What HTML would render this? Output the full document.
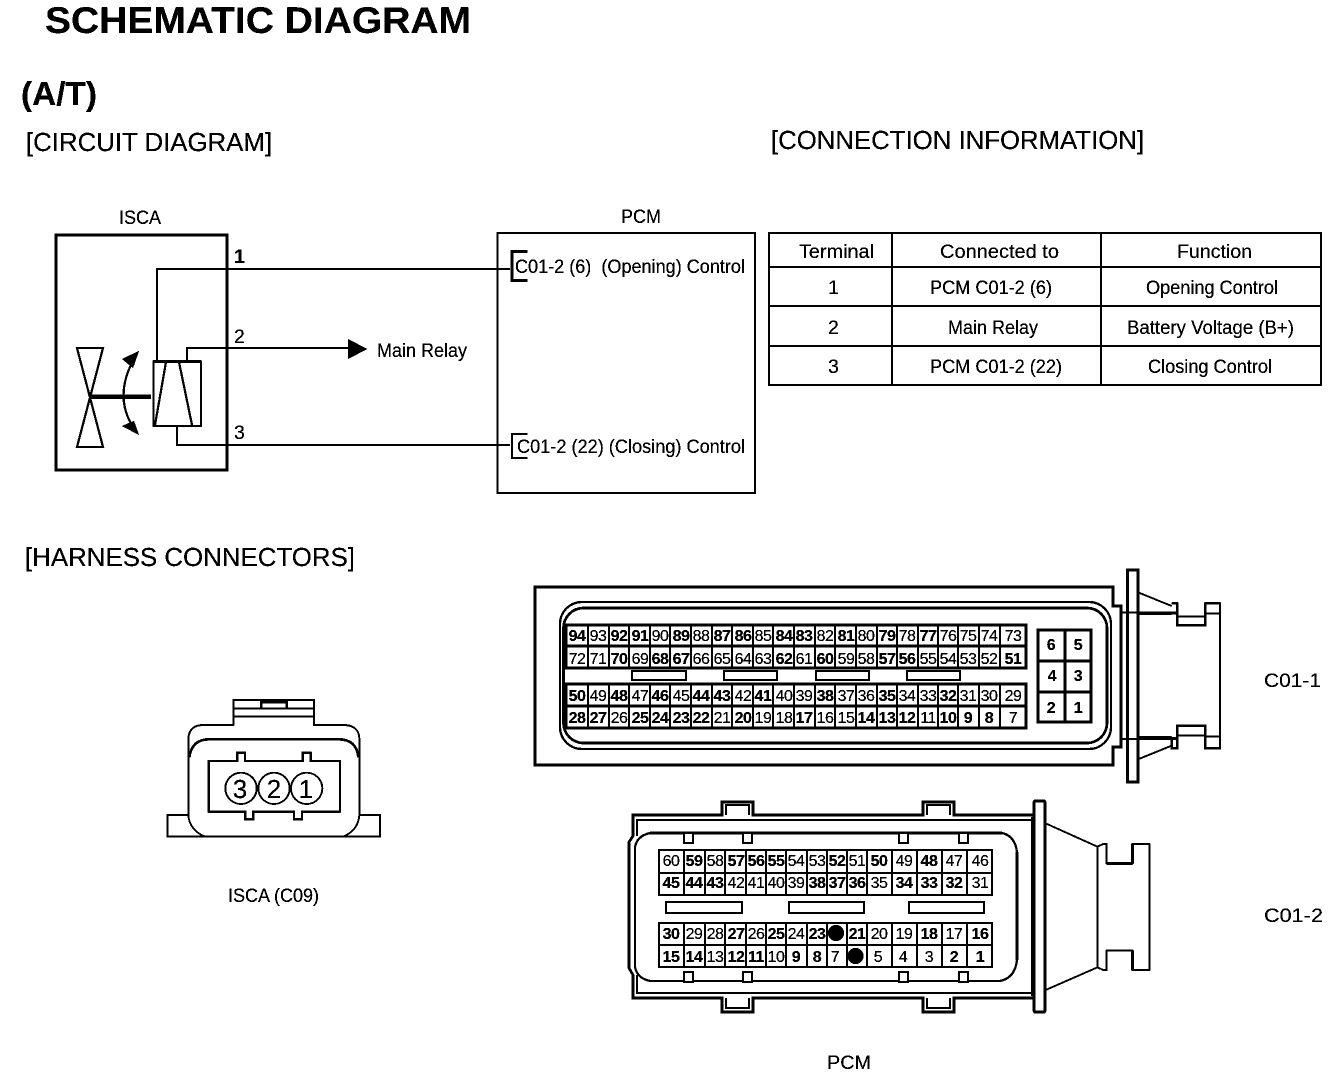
<!DOCTYPE html>
<html><head><meta charset="utf-8"><style>
html,body{margin:0;padding:0;background:#fff}
svg{display:block}
text{font-family:"Liberation Sans",sans-serif;fill:#000}
.n text{font-size:16px;text-anchor:middle;letter-spacing:-.5px}
.b{font-weight:bold}
.l{fill:none;stroke:#000;stroke-width:2}
.t{font-size:19.5px}
</style></head><body>
<svg width="1344" height="1084" viewBox="0 0 1344 1084" xmlns="http://www.w3.org/2000/svg">
<defs><filter id="th" x="0" y="0" width="100%" height="100%" color-interpolation-filters="sRGB"><feComponentTransfer><feFuncR type="discrete" tableValues="0 0 0 1"/><feFuncG type="discrete" tableValues="0 0 0 1"/><feFuncB type="discrete" tableValues="0 0 0 1"/></feComponentTransfer></filter></defs>
<g filter="url(#th)">
<rect width="1344" height="1084" fill="#fff"/>
<text x="45" y="33" font-weight="bold" font-size="37" textLength="426" lengthAdjust="spacingAndGlyphs">SCHEMATIC DIAGRAM</text>
<text x="21" y="105" font-weight="bold" font-size="33" textLength="76" lengthAdjust="spacingAndGlyphs">(A/T)</text>
<text x="26" y="151" font-size="26" textLength="246" lengthAdjust="spacingAndGlyphs">[CIRCUIT DIAGRAM]</text>
<text x="771" y="149" font-size="26" textLength="373" lengthAdjust="spacingAndGlyphs">[CONNECTION INFORMATION]</text>
<text x="25" y="566" font-size="26" textLength="330" lengthAdjust="spacingAndGlyphs">[HARNESS CONNECTORS]</text>

<!-- circuit -->
<text class="t" x="119" y="224" textLength="42" lengthAdjust="spacingAndGlyphs">ISCA</text>
<text class="t" x="621" y="223" textLength="40" lengthAdjust="spacingAndGlyphs">PCM</text>
<rect x="56" y="235" width="171" height="235" fill="none" stroke="#000" stroke-width="2.5"/>
<rect x="497.5" y="233" width="257.5" height="260" fill="none" stroke="#000" stroke-width="2"/>
<path class="l" d="M157 361V269H510M187 361V348H350M177 426V445H510"/>
<path d="M348 339L367 349L348 359Z"/>
<text class="t" x="234" y="263" font-weight="bold" font-size="18">1</text>
<text class="t" x="234" y="343" font-size="19">2</text>
<text class="t" x="234" y="439" font-size="19">3</text>
<text class="t" x="377" y="357" textLength="90" lengthAdjust="spacingAndGlyphs">Main Relay</text>
<path class="l" d="M77 348H103L77 447H103Z"/>
<path d="M89 394.500H151V399H89Z"/>
<path class="l" d="M135 357Q112 397 135 430"/>
<path d="M139 351L133 368L122 359ZM139 435L122 426L134 421Z"/>
<rect x="153.500" y="361.500" width="47.500" height="64.500" class="l"/>
<path d="M153 360H201V363H153Z"/>
<path class="l" d="M166 362L155 425M179 362L192 425"/>
<path d="M527.500 250V253H513.500V279H527.500V282H510.500V250ZM527.500 433V435H513V457H527.500V459H511V433Z"/>
<text class="t" x="515" y="273" textLength="230" lengthAdjust="spacingAndGlyphs" xml:space="preserve">C01-2 (6)  (Opening) Control</text>
<text class="t" x="517" y="453" textLength="228" lengthAdjust="spacingAndGlyphs" xml:space="preserve">C01-2 (22) (Closing) Control</text>

<!-- table -->
<rect x="769" y="233" width="552" height="152" class="l"/>
<path class="l" d="M769 267H1321M769 306H1321M769 346H1321M892 233V385M1101 233V385"/>
<g class="t">
<text class="t" x="799" y="258" textLength="75" lengthAdjust="spacingAndGlyphs">Terminal</text>
<text class="t" x="940" y="258" textLength="119" lengthAdjust="spacingAndGlyphs">Connected to</text>
<text class="t" x="1177" y="258" textLength="75" lengthAdjust="spacingAndGlyphs">Function</text>
<text class="t" x="828" y="294">1</text>
<text class="t" x="930" y="294" textLength="122" lengthAdjust="spacingAndGlyphs">PCM C01-2 (6)</text>
<text class="t" x="1146" y="294" textLength="132" lengthAdjust="spacingAndGlyphs">Opening Control</text>
<text class="t" x="828" y="334">2</text>
<text class="t" x="948" y="334" textLength="90" lengthAdjust="spacingAndGlyphs">Main Relay</text>
<text class="t" x="1127" y="334" textLength="167" lengthAdjust="spacingAndGlyphs">Battery Voltage (B+)</text>
<text class="t" x="828" y="373">3</text>
<text class="t" x="930" y="373" textLength="132" lengthAdjust="spacingAndGlyphs">PCM C01-2 (22)</text>
<text class="t" x="1148" y="373" textLength="124" lengthAdjust="spacingAndGlyphs">Closing Control</text>
</g>

<!-- ISCA connector -->
<g transform="translate(150,680) scale(.33333)" fill="none" stroke="#000" stroke-width="5">
<path d="M115 405H52V470H690V405H628"/>
<path d="M115 405V175Q118 135 160 135H250V60H492V135H580Q626 135 628 175V405Q625 450 580 470H165Q118 450 115 405Z" fill="#fff"/>
<path d="M250 85H492M250 110H492"/>
<path d="M334 85V67H410V85" stroke-width="7"/>
<path d="M118 232Q125 178 178 178H565Q620 178 625 232" stroke-width="7"/>
<path d="M176 243H262V218H285V243H458V218H482V243H570V395H456V418H432V395H310V418H286V395H176Z" stroke-width="6"/>
<circle cx="273" cy="325" r="47" fill="#fff"/><circle cx="372" cy="325" r="47" fill="#fff"/><circle cx="470" cy="325" r="47" fill="#fff"/>
</g>
<text x="240" y="798" font-size="26" text-anchor="middle">3</text>
<text x="274" y="798" font-size="26" text-anchor="middle">2</text>
<text x="306" y="798" font-size="26" text-anchor="middle">1</text>
<text class="t" x="228" y="902" textLength="91" lengthAdjust="spacingAndGlyphs">ISCA (C09)</text>

<!-- C01-1 housing -->
<path d="M1113 587H535V765H1113V747H1121V606H1113Z" fill="none" stroke="#000" stroke-width="2.500"/>
<rect x="560" y="602" width="551" height="147" rx="22" fill="none" stroke="#000" stroke-width="2"/>
<rect x="563.500" y="608" width="543.500" height="135" rx="20" fill="none" stroke="#000" stroke-width="2.500"/>
<g transform="translate(900,570) scale(.33333)" fill="none" stroke="#000" stroke-width="5">
<rect x="682" y="0" width="32" height="636" stroke-width="8" fill="#fff"/>
<path d="M664 127H830M664 507H830M714 67L815 108M714 568L815 527" stroke-width="5"/>
<path d="M714 130H815" stroke-width="8"/>
<path d="M714 503H815" stroke-width="8"/>
<path d="M815 100H832V166H916V100H960V535H916V467H832V535H815V505H832M815 130H832" stroke-width="6"/>
<path d="M916 130H960M916 500H960M832 140H916M832 497H916" stroke-width="5"/>
</g>

<!-- C01-1 grid -->
<path fill="none" stroke="#000" stroke-width="2.500" d="M566 625H1026V668H566ZM566 646H1026M566 684H1026V728H566ZM566 706H1026"/>
<path fill="none" stroke="#000" stroke-width="2" d="M588 625V668M609 625V668M629 625V668M650 625V668M670 625V668M691 625V668M712 625V668M732 625V668M753 625V668M773 625V668M794 625V668M815 625V668M835 625V668M856 625V668M877 625V668M897 625V668M918 625V668M938 625V668M958 625V668M979 625V668M1000 625V668M588 684V728M609 684V728M629 684V728M650 684V728M670 684V728M691 684V728M712 684V728M732 684V728M753 684V728M773 684V728M794 684V728M815 684V728M835 684V728M856 684V728M877 684V728M897 684V728M918 684V728M938 684V728M958 684V728M979 684V728M1000 684V728"/>
<path fill="none" stroke="#000" stroke-width="2" d="M632 671H686V680H632ZM724 671H777V680H724ZM816 671H869V680H816ZM907 671H960V680H907Z"/>
<path fill="none" stroke="#000" stroke-width="2.500" d="M1038 630H1091V722H1038ZM1038 661H1091M1038 692H1091M1065 630V722"/>
<g class="n" transform="translate(0,641)"><text class="b" x="577">94</text><text x="598">93</text><text class="b" x="619">92</text><text class="b" x="640">91</text><text x="660">90</text><text class="b" x="681">89</text><text x="701">88</text><text class="b" x="722">87</text><text class="b" x="743">86</text><text x="763">85</text><text class="b" x="784">84</text><text class="b" x="804">83</text><text x="825">82</text><text class="b" x="846">81</text><text x="866">80</text><text class="b" x="887">79</text><text x="907">78</text><text class="b" x="928">77</text><text x="948">76</text><text x="968">75</text><text x="989">74</text><text x="1013">73</text></g>
<g class="n" transform="translate(0,664)"><text x="577">72</text><text x="598">71</text><text class="b" x="619">70</text><text x="640">69</text><text class="b" x="660">68</text><text class="b" x="681">67</text><text x="701">66</text><text x="722">65</text><text x="743">64</text><text x="763">63</text><text class="b" x="784">62</text><text x="804">61</text><text class="b" x="825">60</text><text x="846">59</text><text x="866">58</text><text class="b" x="887">57</text><text class="b" x="907">56</text><text x="928">55</text><text x="948">54</text><text x="968">53</text><text x="989">52</text><text class="b" x="1013">51</text></g>
<g class="n" transform="translate(0,701)"><text class="b" x="577">50</text><text x="598">49</text><text class="b" x="619">48</text><text x="640">47</text><text class="b" x="660">46</text><text x="681">45</text><text class="b" x="701">44</text><text class="b" x="722">43</text><text x="743">42</text><text class="b" x="763">41</text><text x="784">40</text><text x="804">39</text><text class="b" x="825">38</text><text x="846">37</text><text x="866">36</text><text class="b" x="887">35</text><text x="907">34</text><text x="928">33</text><text class="b" x="948">32</text><text x="968">31</text><text x="989">30</text><text x="1013">29</text></g>
<g class="n" transform="translate(0,723)"><text class="b" x="577">28</text><text class="b" x="598">27</text><text x="619">26</text><text class="b" x="640">25</text><text class="b" x="660">24</text><text class="b" x="681">23</text><text class="b" x="701">22</text><text x="722">21</text><text class="b" x="743">20</text><text x="763">19</text><text x="784">18</text><text class="b" x="804">17</text><text x="825">16</text><text x="846">15</text><text class="b" x="866">14</text><text class="b" x="887">13</text><text class="b" x="907">12</text><text x="928">11</text><text class="b" x="948">10</text><text class="b" x="968">9</text><text class="b" x="989">8</text><text x="1013">7</text></g>
<g class="n b" transform="translate(0,0)"><text class="b" x="1051" y="650">6</text><text class="b" x="1078" y="650">5</text><text class="b" x="1052" y="681">4</text><text class="b" x="1078" y="681">3</text><text class="b" x="1051" y="713">2</text><text class="b" x="1078" y="713">1</text></g>
<text class="t" x="1264" y="687" textLength="57" lengthAdjust="spacingAndGlyphs">C01-1</text>

<!-- C01-2 housing -->
<path d="M1033 815H954V802H923V815H753V802H722V815H633V836L629 842V968L633 975V998H722V1012H753V998H923V1012H954V998H1033" fill="none" stroke="#000" stroke-width="2.500"/>
<path d="M1031 820H637V836M637 975V993H1031" fill="none" stroke="#000" stroke-width="2"/>
<path d="M726 815V805H749V815M726 998V1008H749V998M927 815V805H950V815M927 998V1008H950V998" fill="none" stroke="#000" stroke-width="1.500"/>
<path d="M1031 817H1034V996H1031Z"/>
<rect x="1034" y="801" width="11" height="211" rx="1" fill="#fff" stroke="#000" stroke-width="2.500"/>
<path d="M1017 852V960" stroke="#000" stroke-width="3" fill="none"/>
<path d="M1002 833H650Q637 836 635 847V967Q637 978 650 981H1000Q1015 978 1017 960M1017 852Q1015 836 1002 833" fill="none" stroke="#000" stroke-width="2"/>
<path d="M1002 831.500H650V834.500H1002Z"/>
<g fill="#fff" stroke="#000" stroke-width="2"><rect x="684" y="833" width="9" height="10"/><rect x="743" y="833" width="9" height="10"/><rect x="899" y="833" width="9" height="10"/><rect x="959" y="833" width="9" height="10"/><rect x="684" y="972" width="9" height="10"/><rect x="743" y="972" width="9" height="10"/><rect x="899" y="972" width="9" height="10"/><rect x="959" y="972" width="9" height="10"/></g>
<g transform="translate(900,790) scale(.33333)" fill="none" stroke="#000" stroke-width="5">
<path d="M437 100L592 170M437 600L592 532M592 170V532"/>
<path d="M592 170L610 162H620V220H698V162H748V540H698V482H620V540H610L592 532" stroke-width="5"/>
<path d="M620 220H698" stroke-width="8"/><path d="M698 162V220M698 482V540" stroke-width="8"/>
</g>

<!-- C01-2 grid -->
<path fill="none" stroke="#000" stroke-width="2" d="M659 850H992V895H659ZM659 873H992M659 923H992V967H659ZM659 945H992M684 850V895M705 850V895M725 850V895M746 850V895M766 850V895M786 850V895M807 850V895M827 850V895M847 850V895M867 850V895M892 850V895M917 850V895M942 850V895M967 850V895M684 923V967M705 923V967M725 923V967M746 923V967M766 923V967M786 923V967M807 923V967M827 923V967M847 923V967M867 923V967M892 923V967M917 923V967M942 923V967M967 923V967"/>
<path fill="none" stroke="#000" stroke-width="2" d="M666 902H742V913H666ZM789 902H864V913H789ZM909 902H984V913H909Z"/>
<path d="M666 901H742V903H666ZM909 901H984V903H909Z"/>
<g class="n" transform="translate(0,866)"><text x="671">60</text><text class="b" x="694">59</text><text x="715">58</text><text class="b" x="736">57</text><text class="b" x="756">56</text><text class="b" x="776">55</text><text x="796">54</text><text x="817">53</text><text class="b" x="837">52</text><text x="857">51</text><text class="b" x="879">50</text><text x="904">49</text><text class="b" x="929">48</text><text x="954">47</text><text x="980">46</text></g>
<g class="n" transform="translate(0,888)"><text class="b" x="671">45</text><text class="b" x="694">44</text><text class="b" x="715">43</text><text x="736">42</text><text x="756">41</text><text x="776">40</text><text x="796">39</text><text class="b" x="817">38</text><text class="b" x="837">37</text><text class="b" x="857">36</text><text x="879">35</text><text class="b" x="904">34</text><text class="b" x="929">33</text><text class="b" x="954">32</text><text x="980">31</text></g>
<g class="n" transform="translate(0,939)"><text class="b" x="671">30</text><text x="694">29</text><text x="715">28</text><text class="b" x="736">27</text><text x="756">26</text><text class="b" x="776">25</text><text x="796">24</text><text class="b" x="817">23</text><text class="b" x="857">21</text><text x="879">20</text><text x="904">19</text><text class="b" x="929">18</text><text x="954">17</text><text class="b" x="980">16</text></g>
<g class="n" transform="translate(0,962)"><text class="b" x="671">15</text><text class="b" x="694">14</text><text x="715">13</text><text class="b" x="736">12</text><text class="b" x="756">11</text><text x="776">10</text><text class="b" x="796">9</text><text class="b" x="817">8</text><text x="835">7</text><text x="878">5</text><text x="903">4</text><text x="929">3</text><text class="b" x="954">2</text><text class="b" x="980">1</text></g>
<circle cx="836" cy="933" r="8"/><circle cx="855.500" cy="956" r="8"/>
<text class="t" x="1264" y="922" textLength="59" lengthAdjust="spacingAndGlyphs">C01-2</text>
<text class="t" x="827" y="1069" textLength="44" lengthAdjust="spacingAndGlyphs">PCM</text>
</g>
</svg>
</body></html>
